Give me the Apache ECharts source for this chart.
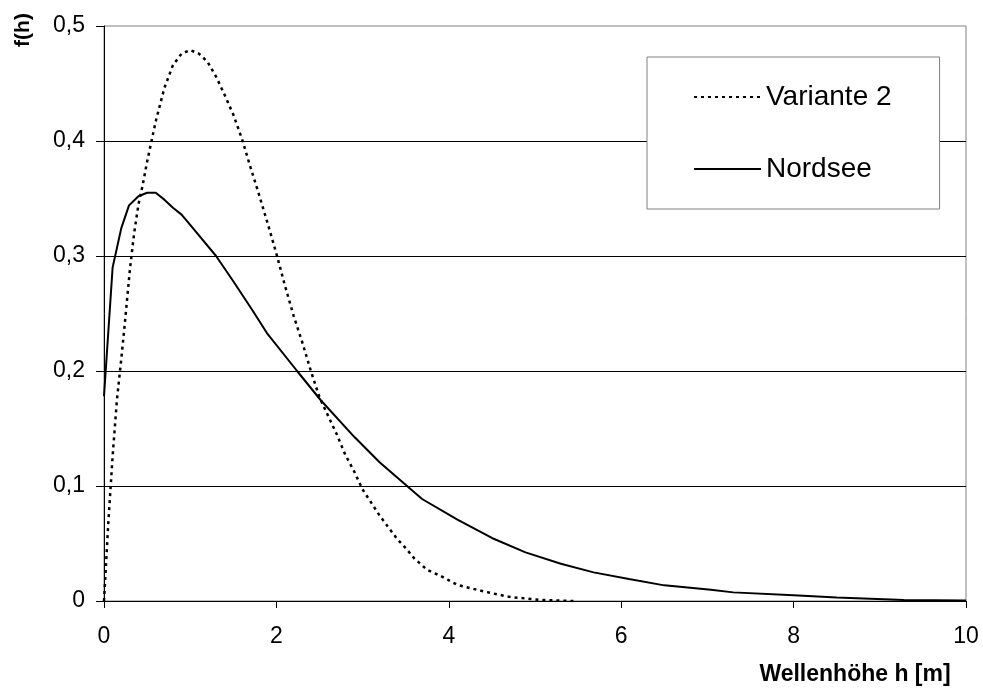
<!DOCTYPE html>
<html>
<head>
<meta charset="utf-8">
<script src="https://cdn.jsdelivr.net/npm/echarts@6/dist/echarts.min.js"></script>
<style>html,body{margin:0;padding:0;background:#fff;}#c{width:983px;height:692px;}</style>
</head>
<body>
<div id="c"></div>
<script>
// Variante 2 (dotted)
var v2H = [0, 0.05, 0.1, 0.15, 0.2, 0.25, 0.3, 0.35, 0.4, 0.45, 0.5, 0.6, 0.7, 0.8, 0.9, 1.0, 1.1, 1.2, 1.3, 1.4, 1.5, 1.6, 1.7, 1.8, 1.9, 2.0, 2.1, 2.2, 2.3, 2.4, 2.5, 2.6, 2.7, 2.8, 2.9, 3.0, 3.2, 3.4, 3.5, 3.6, 3.75, 3.9, 4.1, 4.4, 4.7, 5.05, 5.45];
var v2F = [0, 0.068, 0.126, 0.175, 0.21, 0.248, 0.288, 0.32, 0.345, 0.362, 0.382, 0.417, 0.446, 0.466, 0.476, 0.479, 0.476, 0.469, 0.456, 0.44, 0.423, 0.402, 0.377, 0.353, 0.328, 0.302, 0.274, 0.248, 0.225, 0.2, 0.177, 0.161, 0.145, 0.127, 0.113, 0.097, 0.074, 0.054, 0.046, 0.037, 0.027, 0.022, 0.014, 0.0084, 0.0036, 0.001, 0];
// Nordsee (solid)
var nsH = [0, 0.1, 0.2, 0.29, 0.4, 0.5, 0.6, 0.7, 0.8, 0.9, 1.0, 1.3, 1.5, 1.72, 1.89, 2.24, 2.51, 2.9, 3.2, 3.69, 4.1, 4.5, 4.89, 5.3, 5.68, 6.09, 6.5, 7.04, 7.3, 8.0, 8.5, 9.28, 10];
var nsF = [0.178, 0.29, 0.324, 0.344, 0.352, 0.355, 0.355, 0.349, 0.342, 0.336, 0.327, 0.30, 0.278, 0.253, 0.233, 0.20, 0.175, 0.143, 0.1205, 0.0887, 0.0707, 0.0548, 0.0423, 0.0324, 0.0249, 0.0191, 0.0136, 0.0098, 0.0075, 0.005, 0.003, 0.0008, 0.0005];
var seriesNames = ['Variante 2', 'Nordsee'];
var yTickLabels = ['0', '0,1', '0,2', '0,3', '0,4', '0,5'];
var xTickLabels = ['0', '2', '4', '6', '8', '10'];
var xTitle = 'Wellenhöhe h [m]';
var yTitle = 'f(h)';

var FF = '"Liberation Sans", Arial, sans-serif';
function pairs(xs, ys) { return xs.map(function (x, i) { return [x, ys[i]]; }); }

var chart = echarts.init(document.getElementById('c'), null, { renderer: 'canvas' });
chart.setOption({
  animation: false,
  backgroundColor: '#fff',
  grid: {
    left: 104, right: 17, top: 26, bottom: 91,
    show: true, borderColor: '#808080', borderWidth: 1, backgroundColor: 'transparent',
    containLabel: false, outerBoundsMode: 'none'
  },
  xAxis: {
    type: 'value', min: 0, max: 10, interval: 2,
    axisLine: { show: true, lineStyle: { color: '#000', width: 1 } },
    axisTick: { show: true, length: 7, inside: false, lineStyle: { color: '#000' } },
    splitLine: { show: false },
    axisLabel: {
      margin: 24, fontSize: 23, color: '#000', fontFamily: FF,
      formatter: function (v) { return xTickLabels[Math.round(v / 2)]; }
    }
  },
  yAxis: {
    type: 'value', min: 0, max: 0.5, interval: 0.1,
    axisLine: { show: true, lineStyle: { color: '#000', width: 1 } },
    axisTick: { show: true, length: 8, inside: false, lineStyle: { color: '#000' } },
    splitLine: { show: true, showMinLine: false, showMaxLine: false, lineStyle: { color: '#000', width: 1 } },
    axisLabel: {
      margin: 19, fontSize: 23, color: '#000', fontFamily: FF,
      formatter: function (v) { return yTickLabels[Math.round(v * 10)]; }
    }
  },
  legend: {
    orient: 'vertical', left: 647, top: 57,
    padding: [25, 48, 25, 46], itemGap: 42, itemWidth: 67, itemHeight: 14,
    backgroundColor: '#fff', borderColor: '#808080', borderWidth: 1,
    itemStyle: { opacity: 0 },
    textStyle: { fontSize: 28, color: '#000', fontFamily: FF, lineHeight: 30 },
    data: seriesNames
  },
  graphic: [
    {
      type: 'text', x: 855, y: 675,
      style: { text: xTitle, font: 'bold 23px ' + FF, fill: '#000', textAlign: 'center', textVerticalAlign: 'middle' }
    },
    {
      type: 'text', x: 23, y: 30, rotation: Math.PI / 2,
      style: { text: yTitle, font: 'bold 21px ' + FF, fill: '#000', textAlign: 'center', textVerticalAlign: 'middle' }
    }
  ],
  series: [
    {
      name: seriesNames[0], type: 'line', data: pairs(v2H, v2F),
      symbol: 'none', showSymbol: false, smooth: false,
      lineStyle: { color: '#000', width: 2.5, type: [3, 4] },
      itemStyle: { color: '#000' }
    },
    {
      name: seriesNames[1], type: 'line', data: pairs(nsH, nsF),
      symbol: 'none', showSymbol: false, smooth: false,
      lineStyle: { color: '#000', width: 2, type: 'solid' },
      itemStyle: { color: '#000' }
    }
  ]
});
</script>
</body>
</html>
